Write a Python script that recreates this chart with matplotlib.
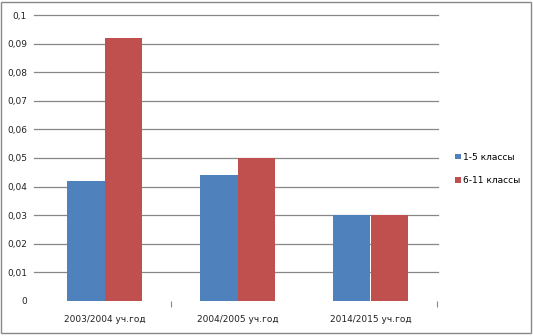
import matplotlib.pyplot as plt
import numpy as np
from matplotlib.patches import Rectangle

years = ["2003/2004 уч.год", "2004/2005 уч.год", "2014/2015 уч.год"]
series_names = ["1-5 классы", "6-11 классы"]
grades_1_5 = [0.042, 0.044, 0.03]
grades_6_11 = [0.092, 0.05, 0.03]
yticks = [0, 0.01, 0.02, 0.03, 0.04, 0.05, 0.06, 0.07, 0.08, 0.09, 0.1]
ytick_labels = ["0", "0,01", "0,02", "0,03", "0,04", "0,05", "0,06", "0,07", "0,08", "0,09", "0,1"]

BLUE = "#4F81BD"
RED = "#C0504D"
GRID = "#878787"

fig = plt.figure(figsize=(5.33, 3.36), dpi=100)
ax = fig.add_axes([38 / 533, 35 / 336, 399 / 533, 286 / 336])

x = np.arange(len(years))
w = 0.285
ax.bar(x - w / 2, grades_1_5, w, color=BLUE, label=series_names[0], zorder=3)
ax.bar(x + w / 2, grades_6_11, w, color=RED, label=series_names[1], zorder=3)

ax.set_xlim(-0.5, 2.5)
ax.set_ylim(0, 0.1)
ax.set_yticks(yticks)
ax.set_yticklabels(ytick_labels, fontsize=6.5, color="#222222")
ax.set_xticks(x)
ax.set_xticklabels(years, fontsize=6.5, color="#222222")
ax.tick_params(axis="x", length=0, pad=10)
ax.tick_params(axis="y", length=0, pad=8)
ax.set_xticks([0.5, 2.5], minor=True)
ax.tick_params(axis="x", which="minor", length=4, color=GRID, width=0.8, pad=2)

for y in yticks[1:]:
    ax.axhline(y, color=GRID, lw=0.9, zorder=1, xmin=-0.01, xmax=1.003, clip_on=False)
for s in ax.spines.values():
    s.set_visible(False)

ax.legend(loc="center left", bbox_to_anchor=(447 / 533, 167 / 336),
          bbox_transform=fig.transFigure, frameon=False, fontsize=6.5,
          handlelength=0.6, handleheight=0.6, handletextpad=0.3, labelspacing=1.6)

fig.patches.append(Rectangle((1 / 533, 3 / 336), 530 / 533, 331 / 336, transform=fig.transFigure,
                             fill=False, edgecolor="#888888", lw=1))

fig.savefig("out.png", dpi=100)
